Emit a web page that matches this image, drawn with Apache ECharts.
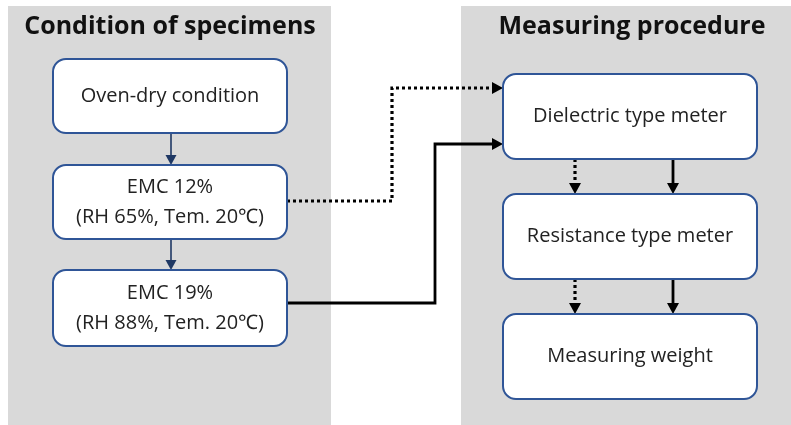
<!DOCTYPE html>
<html><head><meta charset="utf-8">
<script src="https://cdn.jsdelivr.net/npm/echarts@6/dist/echarts.min.js"></script>
<style>html,body{margin:0;padding:0;background:#fff}#c{width:791px;height:425px}</style>
</head><body><div id="c"></div>
<script>
// ---- content ----
const panelTitles = ['Condition of specimens', 'Measuring procedure'];
const specimenSteps = ['Oven-dry condition', 'EMC 12%\n(RH 65%, Tem. 20℃)', 'EMC 19%\n(RH 88%, Tem. 20℃)'];
const procedureSteps = ['Dielectric type meter', 'Resistance type meter', 'Measuring weight'];

// ---- layout (chart units: x 0..791, y 0..425 top-down) ----
const panelBoxes = [[8, 6, 331, 425], [461, 6, 791, 425]];
const titleAnchors = [[170, 27], [632, 27]];
const specimenBoxes = [[53, 59, 287, 133], [53, 165, 287, 239], [53, 270, 287, 346]];
const procedureBoxes = [[503, 74, 757, 159], [503, 194, 757, 279], [503, 314, 757, 399]];
const linkPaths = [
  [[171, 133], [171, 165]],
  [[171, 239], [171, 270]],
  [[287, 201], [392, 201], [392, 88], [503, 88]],
  [[287, 303], [435, 303], [435, 144], [503, 144]],
  [[575, 159], [575, 194]],
  [[575, 279], [575, 314]],
  [[673, 159], [673, 194]],
  [[673, 279], [673, 314]]
];
const linkKinds = ['blue', 'blue', 'dotted', 'solid', 'dotted', 'dotted', 'solid', 'solid'];

const FONT = '"Open Sans", "Noto Sans", "Noto Sans CJK KR", sans-serif';
const linkStyles = {
  blue:   { stroke: '#1F3864', lineWidth: 1.6, dash: null, head: 10, half: 5.5 },
  dotted: { stroke: '#000000', lineWidth: 3.2, dash: [3, 3], head: 11, half: 6 },
  solid:  { stroke: '#000000', lineWidth: 2.8, dash: null, head: 11, half: 6 }
};

function rectOf(api, b) {
  const p0 = api.coord([b[0], b[1]]);
  const p1 = api.coord([b[2], b[3]]);
  return {
    x: Math.min(p0[0], p1[0]), y: Math.min(p0[1], p1[1]),
    width: Math.abs(p1[0] - p0[0]), height: Math.abs(p1[1] - p0[1])
  };
}

const boxes = specimenBoxes.concat(procedureBoxes);
const boxLabels = specimenSteps.concat(procedureSteps);

const chart = echarts.init(document.getElementById('c'), null, { renderer: 'canvas' });
chart.setOption({
  animation: false,
  backgroundColor: '#ffffff',
  grid: { left: 0, right: 0, top: 0, bottom: 0 },
  xAxis: { type: 'value', min: 0, max: 791, show: false },
  yAxis: { type: 'value', min: 0, max: 425, inverse: true, show: false },
  series: [
    {
      type: 'custom', z: 1, silent: true,
      data: panelBoxes.map((b, i) => [b[0], b[1], b[2], b[3], i]),
      renderItem: function (params, api) {
        const i = params.dataIndex;
        const r = rectOf(api, panelBoxes[i]);
        const t = api.coord(titleAnchors[i]);
        return {
          type: 'group',
          children: [
            { type: 'rect', shape: r, style: { fill: '#D9D9D9' } },
            { type: 'text', style: {
                text: panelTitles[i], x: t[0], y: t[1],
                align: 'center', verticalAlign: 'middle',
                fontFamily: FONT, fontSize: 25, fontWeight: 'bold', fill: '#111111' } }
          ]
        };
      }
    },
    {
      type: 'custom', z: 3, silent: true,
      data: boxes.map((b, i) => [b[0], b[1], b[2], b[3], i]),
      renderItem: function (params, api) {
        const i = params.dataIndex;
        const r = rectOf(api, boxes[i]);
        return {
          type: 'group',
          children: [
            { type: 'rect', shape: Object.assign({ r: 13 }, r),
              style: { fill: '#ffffff', stroke: '#2F5597', lineWidth: 2 } },
            { type: 'text', style: {
                text: boxLabels[i], x: r.x + r.width / 2, y: r.y + r.height / 2,
                align: 'center', verticalAlign: 'middle', lineHeight: 30,
                fontFamily: FONT, fontSize: 20, fill: '#222222' } }
          ]
        };
      }
    },
    {
      type: 'custom', z: 2, silent: true,
      data: linkPaths.map((p, i) => [p[0][0], p[0][1], i]),
      renderItem: function (params, api) {
        const i = params.dataIndex;
        const st = linkStyles[linkKinds[i]];
        const pts = linkPaths[i].map(p => api.coord(p));
        const n = pts.length;
        const end = pts[n - 1], prev = pts[n - 2];
        const dx = end[0] - prev[0], dy = end[1] - prev[1];
        const len = Math.sqrt(dx * dx + dy * dy);
        const ux = dx / len, uy = dy / len;
        const bx = end[0] - ux * st.head, by = end[1] - uy * st.head;
        const linePts = pts.slice(0, n - 1).concat([[bx + ux * 1, by + uy * 1]]);
        return {
          type: 'group',
          children: [
            { type: 'polyline', shape: { points: linePts },
              style: { stroke: st.stroke, lineWidth: st.lineWidth, fill: null,
                       lineDash: st.dash, lineCap: 'butt', lineJoin: 'miter' } },
            { type: 'polygon', shape: { points: [
                [end[0], end[1]],
                [bx - uy * st.half, by + ux * st.half],
                [bx + uy * st.half, by - ux * st.half]
              ] }, style: { fill: st.stroke } }
          ]
        };
      }
    }
  ]
});
</script>
</body></html>
